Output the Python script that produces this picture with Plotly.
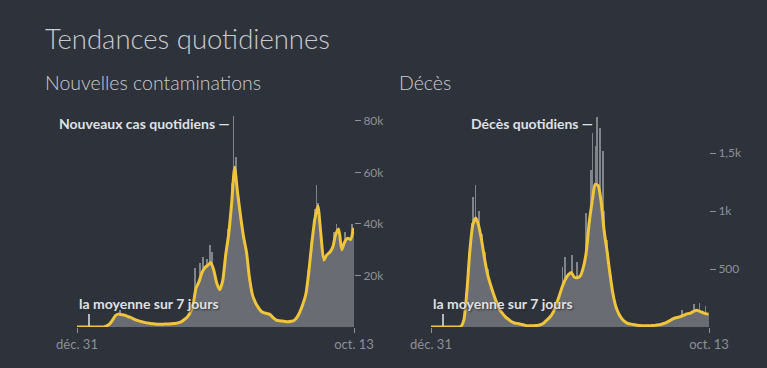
import plotly.graph_objects as go
import pandas as pd

W, H = 767, 368
debut = "2019-12-31"
fin = "2021-10-13"
semaines = pd.date_range(debut, periods=94, freq="7D")

# Nouvelles contaminations : moyenne sur 7 jours (une valeur par semaine)
cas_moyenne = [
    0, 0, 0, 0, 0, 0, 0, 0, 0, 50,
    400, 1200, 2800, 4500, 5000, 4800, 4600, 4100, 3700, 3200,
    2700, 2300, 2000, 1700, 1500, 1300, 1200, 1100, 1100, 1100,
    1200, 1200, 1300, 1400, 1600, 2000, 2800, 3800, 5500, 8500,
    15000, 17500, 21000, 23000, 24000, 25000, 22000, 17000, 14500, 18000,
    28000, 36000, 48000, 62000, 52000, 43000, 35000, 29000, 19000, 12500,
    9500, 7500, 6000, 5500, 5200, 4800, 3500, 2700, 2400, 2300,
    2100, 2000, 2200, 2500, 3800, 6000, 9000, 13000, 22000, 33000,
    42000, 47000, 36000, 26000, 28000, 29000, 31000, 36000, 38000, 30000,
    33000, 34500, 34000, 38500,
]

# Décès : moyenne sur 7 jours (une valeur par semaine)
deces_moyenne = [
    0, 0, 0, 0, 0, 0, 0, 0, 0, 0,
    5, 60, 300, 650, 880, 940, 870, 740, 580, 450,
    360, 280, 210, 150, 115, 85, 65, 45, 35, 30,
    25, 18, 12, 10, 10, 12, 15, 22, 40, 65,
    90, 130, 200, 270, 350, 410, 450, 470, 430, 425,
    440, 510, 640, 900, 1080, 1230, 1220, 1080, 830, 650,
    450, 280, 170, 110, 70, 45, 30, 25, 20, 15,
    12, 10, 10, 10, 12, 14, 18, 22, 30, 40,
    55, 70, 80, 85, 95, 105, 115, 120, 135, 145,
    135, 125, 115, 110,
]

# Pics quotidiens (valeurs journalières les plus hautes)
cas_pics_dates = ["2020-04-10", "2020-10-04", "2020-10-15", "2020-10-22", "2020-11-01",
                  "2020-11-08", "2020-11-13", "2020-12-20", "2020-12-29", "2021-01-02",
                  "2021-01-08", "2021-01-15", "2021-07-13", "2021-07-17", "2021-07-21",
                  "2021-08-27", "2021-09-02", "2021-09-22", "2021-10-08"]
cas_pics = [6600, 23000, 25000, 27000, 26500,
            31800, 29000, 38000, 56000, 82000,
            66000, 50000, 46000, 55000, 48000,
            37000, 40000, 37000, 40000]

deces_pics_dates = ["2020-04-04", "2020-04-08", "2020-04-13", "2020-04-21", "2020-04-28",
                    "2020-05-05", "2020-05-12", "2020-11-03", "2020-11-10", "2020-11-25",
                    "2020-12-08", "2020-12-29", "2021-01-09", "2021-01-13", "2021-01-20",
                    "2021-01-23", "2021-01-30", "2021-02-06", "2021-02-10", "2021-02-17",
                    "2021-08-10", "2021-09-08", "2021-09-21", "2021-10-05"]
deces_pics = [900, 1120, 1224, 1000, 800,
              650, 500, 520, 600, 620,
              560, 980, 1350, 1670, 1560,
              1810, 1720, 1520, 1000, 750,
              150, 200, 210, 180]

FOND = "#2e323a"
GRIS = "#696c72"
GRIS_PIC = "#80848b"
JAUNE = "#f0c53a"
TEXTE = "#c9cbd0"
TICK = "#8c9098"
POLICE = "Lato"

def px(x):
    return x / W

def py(y):
    return 1 - y / H

JOUR_MS = 86400000

fig = go.Figure()

for (moy, pics_d, pics_v, xa, ya) in [
    (cas_moyenne, cas_pics_dates, cas_pics, "x", "y"),
    (deces_moyenne, deces_pics_dates, deces_pics, "x2", "y2"),
]:
    fig.add_trace(go.Bar(x=pics_d, y=pics_v, width=1.5 * JOUR_MS,
                         marker=dict(color=GRIS_PIC, line_width=0),
                         xaxis=xa, yaxis=ya, showlegend=False, hoverinfo="skip"))
    fig.add_trace(go.Bar(x=semaines, y=moy, width=7 * JOUR_MS,
                         marker=dict(color=GRIS, line_width=0),
                         xaxis=xa, yaxis=ya, showlegend=False, hoverinfo="skip"))
    fig.add_trace(go.Scatter(x=semaines, y=moy, mode="lines",
                             line=dict(color=JAUNE, width=3, shape="spline", smoothing=0.6),
                             xaxis=xa, yaxis=ya, showlegend=False, hoverinfo="skip"))

x_common = dict(type="date", range=[debut, fin], tickvals=[debut, fin],
                ticktext=["déc. 31", "oct. 13"], ticks="outside", ticklen=5,
                tickcolor=TICK, tickfont=dict(family=POLICE, size=13, color=TICK),
                showgrid=False, zeroline=False, showline=False, automargin=False)
y_common = dict(side="right", ticks="outside", ticklen=6, tickcolor=TICK,
                tickfont=dict(family=POLICE, size=12, color=TICK),
                showgrid=False, zeroline=False, showline=False, automargin=False,
                domain=[py(327), py(115)])

fig.update_layout(
    width=W, height=H, autosize=False,
    margin=dict(l=0, r=0, t=0, b=0, pad=0, autoexpand=False),
    paper_bgcolor=FOND, plot_bgcolor=FOND,
    barmode="overlay", bargap=0,
    xaxis=dict(domain=[px(77), px(354)], anchor="y", **x_common),
    xaxis2=dict(domain=[px(431), px(709)], anchor="y2", **x_common),
    yaxis=dict(anchor="x", range=[0, 82300],
               tickvals=[20000, 40000, 60000, 80000],
               ticktext=["20k", "40k", "60k", "80k"], **y_common),
    yaxis2=dict(anchor="x2", range=[0, 1828],
                tickvals=[500, 1000, 1500],
                ticktext=["500", "1k", "1,5k"], **y_common),
)

ann = []
ann.append(dict(text="Tendances quotidiennes", x=px(43), y=py(38), xref="paper", yref="paper",
                xanchor="left", yanchor="middle", showarrow=False,
                font=dict(family=POLICE, size=27.5, color=TEXTE, weight=300)))
ann.append(dict(text="Nouvelles contaminations", x=px(43), y=py(82), xref="paper", yref="paper",
                xanchor="left", yanchor="middle", showarrow=False,
                font=dict(family=POLICE, size=19.5, color=TEXTE, weight=300)))
ann.append(dict(text="Décès", x=px(397), y=py(82), xref="paper", yref="paper",
                xanchor="left", yanchor="middle", showarrow=False,
                font=dict(family=POLICE, size=19.5, color=TEXTE, weight=300)))
LAB = dict(family=POLICE, size=14, color="#dfe0e3", weight=700)
ann.append(dict(text="Nouveaux cas quotidiens —", x=px(232), y=py(124), xref="paper", yref="paper",
                xanchor="right", yanchor="middle", showarrow=False, font=LAB))
ann.append(dict(text="Décès quotidiens —", x=px(595), y=py(124), xref="paper", yref="paper",
                xanchor="right", yanchor="middle", showarrow=False, font=LAB))
LAB2 = dict(LAB, shadow="1px 1px 2px #2e323a")
ann.append(dict(text="la moyenne sur 7 jours", x=px(77), y=py(303), xref="paper", yref="paper",
                xanchor="left", yanchor="middle", showarrow=False, font=LAB2))
ann.append(dict(text="la moyenne sur 7 jours", x=px(431), y=py(303), xref="paper", yref="paper",
                xanchor="left", yanchor="middle", showarrow=False, font=LAB2))
fig.update_layout(annotations=ann)

shapes = []
for xx in (89, 443):
    shapes.append(dict(type="line", xref="paper", yref="paper",
                       x0=px(xx), x1=px(xx), y0=py(314), y1=py(326),
                       line=dict(color="#e4e5e8", width=1.5)))
fig.update_layout(shapes=shapes)

fig.write_html(
    "out.html",
    config={"responsive": False, "displayModeBar": False},
    post_script="document.body.style.margin='0';document.body.style.overflow='hidden';",
)
